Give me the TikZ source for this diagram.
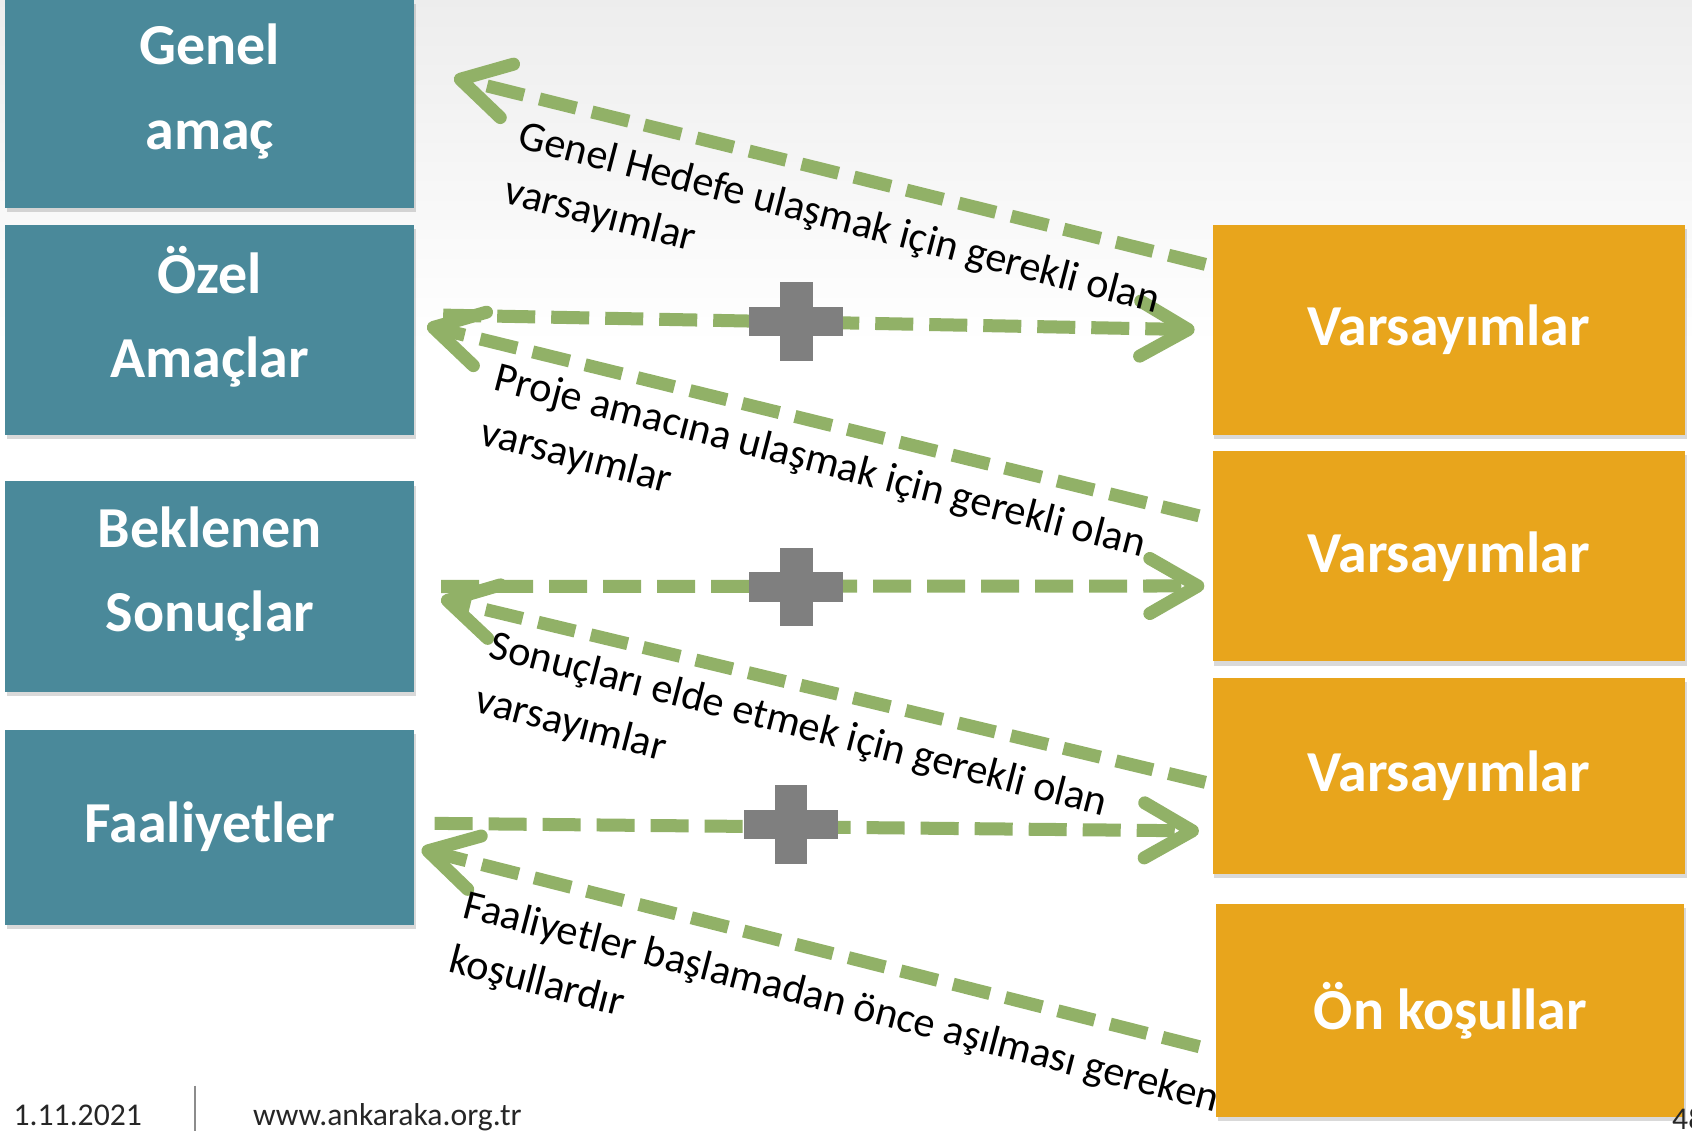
\documentclass[tikz,border=0pt]{standalone}
\usepackage{fontspec}
\setmainfont{Carlito}
\usetikzlibrary{arrows.meta,shadows}

\definecolor{goalblue}{RGB}{74,137,154}
\definecolor{assumporange}{RGB}{232,165,28}
\definecolor{linkgreen}{RGB}{145,177,103}
\definecolor{plusgray}{RGB}{127,127,127}

\begin{document}
\begin{tikzpicture}[x=0.01079cm, y=-0.01079cm,
    goalbox/.style={fill=goalblue, text=white, inner sep=0pt, minimum width=4.09cm,
      align=center, font=\fontsize{16.5}{24}\selectfont\bfseries,
      drop shadow={shadow xshift=0.5pt, shadow yshift=-1.2pt, opacity=0.3}},
    twoline/.style={text depth=10pt},
    assumpbox/.style={fill=assumporange, text=white, inner sep=0pt, minimum width=4.72cm,
      align=center, font=\fontsize{16.5}{24}\selectfont\bfseries,
      drop shadow={shadow xshift=0.5pt, shadow yshift=-1.2pt, opacity=0.3}},
    link/.style={draw=linkgreen, line width=3.7pt, dash pattern=on 3.8mm off 1.6mm,
      -{Straight Barb[length=4.8mm, width=5.5mm, round]}},
    linklabel/.style={anchor=north west, inner sep=0pt, rotate=-14.5, align=left,
      font=\fontsize{12}{16}\selectfont},
    footer/.style={anchor=base west, inner sep=0pt, text=black!85,
      font=\fontsize{9}{11}\selectfont},
    plusmark/.pic={
      \fill[plusgray] (-43.5,-13.5) rectangle (43.5,13.5);
      \fill[plusgray] (-15,-36.5) rectangle (15,36.5);
    }]
    \useasboundingbox (0,0) rectangle (1568,1048);

    % Background
    \shade[top color=black!7, bottom color=white] (0,0) rectangle (1568,320);

    % Goal boxes
    \node[goalbox, twoline, minimum height=2.08cm] (genel) at (194.5,96.5) {Genel\\amaç};
    \node[goalbox, twoline, minimum height=2.10cm] (ozel) at (194.5,305.5) {Özel\\Amaçlar};
    \node[goalbox, twoline, minimum height=2.10cm] (sonuc) at (194.5,543.5) {Beklenen\\Sonuçlar};
    \node[goalbox, minimum height=1.95cm] (faal) at (194.5,766.5) {Faaliyetler};

    % Assumption boxes
    \node[assumpbox, minimum height=2.10cm] (vars1) at (1342.5,305.5) {Varsayımlar};
    \node[assumpbox, minimum height=2.10cm] (vars2) at (1342.5,515.5) {Varsayımlar};
    \node[assumpbox, minimum height=1.96cm] (vars3) at (1342.5,719) {Varsayımlar};
    \node[assumpbox, minimum height=2.13cm, minimum width=4.68cm]
      (onkos) at (1344,936.5) {Ön koşullar};

    % Links
    \draw[link] ([shift={(-6,-60.5)}]vars1.west) -- ([shift={(36,-24.5)}]genel.east);
    \draw[link] ([shift={(26,-13.5)}]ozel.east) -- ([shift={(-16,0)}]vars1.west);
    \draw[link] ([shift={(-12,-37.5)}]vars2.west) -- ([shift={(11,-3.5)}]ozel.east);
    \draw[link] ([shift={(24,0)}]sonuc.east) -- ([shift={(-7,27.5)}]vars2.west);
    \draw[link] ([shift={(-6,6)}]vars3.west) -- ([shift={(24,11.5)}]sonuc.east);
    \draw[link] ([shift={(18,-3.5)}]faal.east) -- ([shift={(-12,51)}]vars3.west);
    \draw[link] ([shift={(-15,33.5)}]onkos.west) -- ([shift={(6,20.5)}]faal.east);

    % Plus signs
    \pic at (738,298) {plusmark};
    \pic at (738,544) {plusmark};
    \pic at (733,764) {plusmark};

    % Link labels
    \node[linklabel] (lab1) at (485,110)
      {Genel Hedefe ulaşmak için gerekli olan\\varsayımlar};
    \node[linklabel] (lab2) at (463,334)
      {Proje amacına ulaşmak için gerekli olan\\varsayımlar};
    \node[linklabel] (lab3) at (458,582)
      {Sonuçları elde etmek için gerekli olan\\varsayımlar};
    \node[linklabel] (lab4) at (434,823)
      {Faaliyetler başlamadan önce aşılması gereken\\koşullardır};

    % Footer
    \node[footer] (date) at (12,1043) {1.11.2021};
    \draw[black!45, line width=0.6pt] (181,1006) -- (181,1050);
    \node[footer] (web) at (234,1043) {www.ankaraka.org.tr};
    \node[footer] (pageno) at (1549,1047) {48};
  \end{tikzpicture}
\end{document}
